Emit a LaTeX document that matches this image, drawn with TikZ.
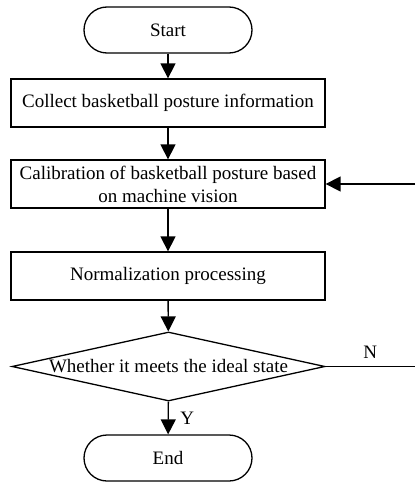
\documentclass[tikz,border=0pt]{standalone}
\usepackage{fontspec}
\setmainfont{Liberation Serif}
\usetikzlibrary{positioning,arrows.meta,shapes.geometric}

\begin{document}
\begin{tikzpicture}[
    x=1pt, y=-1pt,
    every node/.style={font=\fontsize{19}{23}\selectfont},
    termNode/.style={rectangle, rounded corners=23pt, draw=black, line width=1.3pt, minimum width=168pt, minimum height=46pt, inner sep=0pt},
    procBox/.style={rectangle, draw=black, line width=1.3pt, minimum width=314pt, minimum height=48pt, align=center, inner sep=2pt},
    decisionNode/.style={diamond, draw=black, line width=1.3pt, aspect=4.5, minimum width=313pt, minimum height=69pt, inner sep=1pt},
    flowArrow/.style={line width=1.4pt, -{Triangle[length=15pt, width=15pt]}},
    flowLine/.style={line width=1.4pt}
]
    \useasboundingbox (0,0) rectangle (415,484);

    % Blocchi del diagramma
    \node[termNode] (start) at (168,30) {Start};
    \node[procBox] (collect) at (168,103) {Collect basketball posture information};
    \node[procBox] (calib) at (168,184) {Calibration of basketball posture based\\on machine vision};
    \node[procBox] (norm) at (168,276) {Normalization processing};
    \node[decisionNode] (check) at (168.5,366.5) {Whether it meets the ideal state};
    \node[termNode] (finish) at (168,458) {End};

    % Estremi del ritorno (fuori dal bordo destro)
    \coordinate (loopOut) at (415,366.5);
    \coordinate (loopIn) at (415,184);

    % Frecce principali
    \draw[flowArrow] (start) -- (collect);
    \draw[flowArrow] (collect) -- (calib);
    \draw[flowArrow] (calib) -- (norm);
    \draw[flowArrow] (norm) -- (check);
    \draw[flowArrow] (check) -- (finish) node[midway, right=8pt] {Y};

    % Ramo N
    \draw[flowLine] (check.east) -- (loopOut) node[midway, above=4pt] {N};
    \draw[flowArrow] (loopIn) -- (calib.east);
\end{tikzpicture}
\end{document}
